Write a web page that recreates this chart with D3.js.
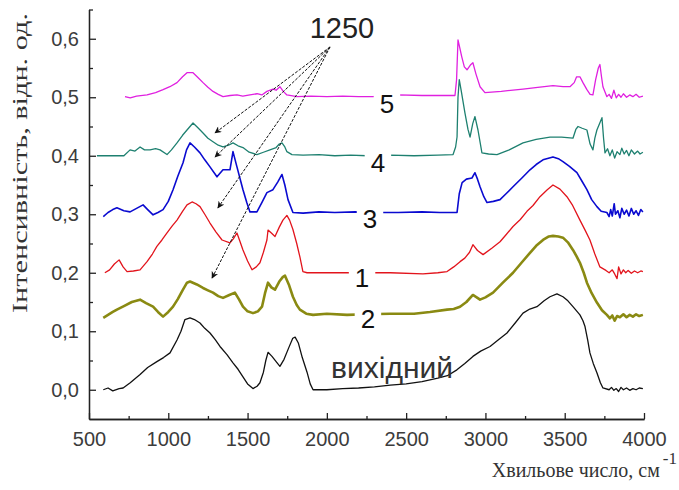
<!DOCTYPE html>
<html>
<head>
<meta charset="utf-8">
<script src="https://cdnjs.cloudflare.com/ajax/libs/d3/7.8.5/d3.min.js"></script>
<style>
  body { margin: 0; background: #fff; }
  svg { display: block; }
</style>
</head>
<body>
<div id="chart"></div>
<script>
// IR spectra, stacked with offsets

// tick values
const xTicks = [500, 1000, 1500, 2000, 2500, 3000, 3500, 4000];
const xMinor = [750, 1250, 1750, 2250, 2750, 3250, 3750];
const yTicks = [0.0, 0.1, 0.2, 0.3, 0.4, 0.5, 0.6];
const yMinor = [0.05, 0.15, 0.25, 0.35, 0.45, 0.55, 0.65];

// series: [wavenumber, intensity]
const base = [[590,0.0],[620,0.003],[650,-0.002],[690,0.002],[715,0.003],[760,0.012],[822,0.026],[870,0.038],[928,0.048],[970,0.055],[1011,0.063],[1055,0.085],[1080,0.1],[1105,0.12],[1137,0.123],[1165,0.12],[1200,0.114],[1230,0.105],[1263,0.097],[1295,0.086],[1326,0.074],[1370,0.06],[1408,0.046],[1440,0.035],[1471,0.022],[1500,0.01],[1534,0.002],[1560,0.006],[1578,0.012],[1600,0.03],[1615,0.05],[1629,0.064],[1654,0.057],[1680,0.048],[1704,0.04],[1730,0.052],[1760,0.072],[1785,0.088],[1800,0.09],[1820,0.08],[1845,0.055],[1875,0.03],[1895,0.01],[1913,0.0],[2000,0.0],[2100,0.002],[2200,0.003],[2300,0.005],[2400,0.008],[2500,0.01],[2600,0.014],[2700,0.02],[2760,0.024],[2820,0.034],[2870,0.045],[2921,0.057],[2970,0.066],[3029,0.074],[3080,0.085],[3136,0.097],[3190,0.115],[3237,0.131],[3280,0.138],[3325,0.142],[3370,0.152],[3407,0.159],[3451,0.164],[3489,0.159],[3520,0.152],[3552,0.142],[3596,0.128],[3615,0.118],[3628,0.108],[3645,0.085],[3659,0.063],[3680,0.045],[3703,0.029],[3725,0.012],[3741,0.003],[3780,0.0],[3795,0.004],[3810,-0.001],[3825,0.002],[3840,-0.003],[3855,0.004],[3870,0.0],[3890,0.003],[3910,-0.001],[3930,0.002],[3950,0.0],[3970,0.003],[3993,0.002]];

const s2 = [[590,0.123],[620,0.128],[650,0.133],[676,0.137],[720,0.143],[770,0.15],[822,0.154],[860,0.148],[904,0.142],[935,0.133],[967,0.125],[1000,0.133],[1030,0.142],[1060,0.155],[1090,0.17],[1118,0.183],[1137,0.185],[1180,0.18],[1219,0.174],[1250,0.17],[1282,0.166],[1315,0.16],[1345,0.157],[1385,0.162],[1420,0.166],[1445,0.155],[1471,0.142],[1500,0.134],[1534,0.131],[1565,0.134],[1591,0.142],[1610,0.165],[1629,0.183],[1650,0.175],[1673,0.171],[1700,0.185],[1723,0.193],[1736,0.195],[1760,0.18],[1786,0.159],[1810,0.145],[1830,0.137],[1870,0.13],[1913,0.128],[2000,0.13],[2127,0.128],[2250,0.129],[2400,0.13],[2550,0.13],[2650,0.133],[2758,0.137],[2800,0.138],[2840,0.142],[2880,0.15],[2921,0.162],[2945,0.158],[2966,0.154],[3000,0.158],[3048,0.166],[3110,0.183],[3174,0.2],[3230,0.218],[3281,0.234],[3320,0.246],[3363,0.256],[3400,0.262],[3426,0.263],[3460,0.262],[3489,0.26],[3520,0.252],[3552,0.239],[3575,0.228],[3596,0.217],[3620,0.2],[3640,0.183],[3670,0.165],[3703,0.149],[3735,0.136],[3766,0.128],[3785,0.122],[3800,0.127],[3815,0.118],[3830,0.126],[3848,0.124],[3870,0.129],[3890,0.124],[3910,0.128],[3930,0.125],[3950,0.129],[3970,0.126],[3993,0.128]];

const s1 = [[600,0.2],[630,0.205],[660,0.215],[690,0.222],[715,0.21],[740,0.202],[780,0.203],[822,0.205],[866,0.219],[900,0.232],[928,0.245],[960,0.256],[992,0.268],[1025,0.28],[1055,0.29],[1090,0.305],[1118,0.316],[1150,0.321],[1175,0.318],[1200,0.313],[1230,0.3],[1263,0.285],[1300,0.27],[1339,0.256],[1389,0.251],[1410,0.258],[1433,0.268],[1450,0.255],[1471,0.239],[1500,0.22],[1528,0.205],[1555,0.21],[1578,0.217],[1600,0.235],[1622,0.256],[1629,0.273],[1650,0.268],[1673,0.262],[1700,0.278],[1723,0.29],[1748,0.298],[1765,0.29],[1786,0.274],[1810,0.25],[1830,0.227],[1849,0.202],[1875,0.2],[2000,0.2],[2200,0.2],[2400,0.2],[2606,0.198],[2700,0.2],[2758,0.202],[2800,0.21],[2840,0.219],[2870,0.225],[2900,0.235],[2921,0.248],[2950,0.238],[2985,0.231],[3040,0.242],[3092,0.253],[3130,0.265],[3174,0.279],[3220,0.291],[3262,0.305],[3300,0.315],[3344,0.33],[3390,0.342],[3426,0.35],[3470,0.343],[3514,0.33],[3550,0.315],[3596,0.29],[3630,0.272],[3659,0.256],[3690,0.232],[3722,0.21],[3760,0.204],[3780,0.2],[3800,0.205],[3815,0.198],[3830,0.19],[3840,0.21],[3855,0.198],[3870,0.205],[3885,0.2],[3900,0.204],[3920,0.199],[3940,0.203],[3960,0.2],[3980,0.203],[3993,0.202]];

const s3 = [[590,0.296],[620,0.303],[650,0.308],[676,0.311],[720,0.306],[759,0.304],[800,0.31],[841,0.316],[870,0.308],[904,0.299],[935,0.303],[967,0.308],[1000,0.322],[1030,0.342],[1060,0.365],[1093,0.388],[1115,0.41],[1137,0.422],[1165,0.415],[1200,0.405],[1230,0.393],[1263,0.381],[1307,0.364],[1345,0.376],[1389,0.376],[1408,0.407],[1433,0.381],[1471,0.342],[1495,0.32],[1515,0.304],[1559,0.304],[1590,0.32],[1622,0.337],[1660,0.342],[1690,0.355],[1717,0.368],[1735,0.35],[1755,0.325],[1786,0.303],[1850,0.302],[1950,0.304],[2050,0.303],[2177,0.304],[2300,0.303],[2450,0.303],[2600,0.304],[2713,0.303],[2821,0.303],[2835,0.335],[2853,0.354],[2880,0.36],[2915,0.362],[2934,0.371],[2950,0.36],[2966,0.347],[2990,0.33],[3010,0.32],[3050,0.322],[3092,0.325],[3130,0.335],[3174,0.347],[3230,0.362],[3281,0.376],[3320,0.385],[3363,0.393],[3426,0.398],[3460,0.395],[3489,0.39],[3530,0.382],[3577,0.371],[3610,0.356],[3640,0.342],[3670,0.325],[3703,0.313],[3730,0.305],[3766,0.303],[3780,0.296],[3790,0.308],[3800,0.297],[3812,0.318],[3820,0.3],[3835,0.306],[3848,0.294],[3860,0.31],[3875,0.3],[3890,0.307],[3905,0.297],[3920,0.31],[3935,0.3],[3950,0.306],[3965,0.298],[3980,0.308],[3993,0.304]];

const s4 = [[550,0.4],[720,0.4],[759,0.41],[790,0.408],[822,0.415],[850,0.41],[885,0.41],[920,0.412],[948,0.41],[992,0.402],[1020,0.41],[1055,0.422],[1090,0.435],[1118,0.444],[1156,0.456],[1190,0.447],[1219,0.439],[1250,0.43],[1282,0.424],[1315,0.418],[1345,0.415],[1380,0.418],[1408,0.422],[1440,0.417],[1471,0.414],[1510,0.406],[1559,0.402],[1600,0.406],[1641,0.41],[1680,0.414],[1700,0.42],[1717,0.422],[1735,0.415],[1748,0.407],[1780,0.402],[1850,0.401],[1950,0.402],[2050,0.4],[2150,0.401],[2253,0.4],[2400,0.401],[2550,0.4],[2700,0.401],[2796,0.402],[2812,0.415],[2821,0.432],[2827,0.5],[2835,0.53],[2848,0.51],[2871,0.473],[2890,0.445],[2903,0.432],[2920,0.455],[2934,0.467],[2953,0.444],[2978,0.405],[3020,0.403],[3073,0.402],[3150,0.41],[3237,0.422],[3320,0.428],[3407,0.432],[3480,0.432],[3552,0.43],[3570,0.445],[3584,0.45],[3610,0.447],[3640,0.444],[3660,0.42],[3678,0.41],[3690,0.43],[3703,0.444],[3720,0.455],[3735,0.465],[3745,0.43],[3754,0.405],[3770,0.412],[3785,0.4],[3800,0.41],[3815,0.396],[3830,0.407],[3848,0.402],[3860,0.413],[3875,0.403],[3890,0.409],[3905,0.4],[3920,0.41],[3940,0.403],[3960,0.408],[3975,0.403],[3993,0.406]];

const s5 = [[727,0.501],[760,0.499],[800,0.502],[866,0.504],[920,0.508],[967,0.513],[1010,0.518],[1055,0.525],[1090,0.535],[1118,0.542],[1156,0.542],[1190,0.533],[1219,0.525],[1250,0.517],[1282,0.51],[1315,0.505],[1345,0.501],[1390,0.503],[1433,0.504],[1470,0.502],[1515,0.504],[1560,0.506],[1590,0.504],[1622,0.51],[1660,0.514],[1680,0.512],[1704,0.518],[1725,0.51],[1748,0.504],[1811,0.501],[1900,0.502],[2000,0.501],[2100,0.502],[2200,0.501],[2291,0.501],[2450,0.504],[2600,0.503],[2750,0.503],[2808,0.503],[2818,0.53],[2827,0.598],[2838,0.585],[2850,0.57],[2867,0.552],[2884,0.547],[2905,0.555],[2921,0.559],[2940,0.54],[2966,0.518],[2997,0.508],[3100,0.51],[3237,0.514],[3330,0.517],[3426,0.52],[3490,0.518],[3533,0.518],[3560,0.525],[3575,0.535],[3596,0.535],[3615,0.525],[3640,0.513],[3660,0.505],[3678,0.504],[3695,0.53],[3712,0.55],[3722,0.556],[3732,0.535],[3741,0.518],[3766,0.501],[3780,0.505],[3795,0.498],[3810,0.512],[3825,0.499],[3840,0.505],[3855,0.5],[3870,0.506],[3890,0.5],[3910,0.504],[3930,0.501],[3950,0.505],[3970,0.5],[3993,0.502]];

const seriesNames = ["вихідний", "2", "1", "3", "4", "5"];
const seriesData = [base, s2, s1, s3, s4, s5];
const seriesColors = ["#111111", "#8a8a12", "#e2141c", "#0a0ad0", "#1e8070", "#e020e0"];
const seriesWidths = [1.3, 2.6, 1.3, 1.6, 1.3, 1.3];

// curve labels: [text, wavenumber, intensity at baseline]
const curveLabels = [["5", 2379, 0.4735], ["4", 2322, 0.3726], ["3", 2272, 0.277],
                     ["1", 2222, 0.176], ["2", 2259, 0.106]];
const baseLabel = ["вихідний", 2411, 0.0205];

// "1250" annotation and its arrows
const peakLabel = ["1250", 2095, 0.6017];
const arrowFrom = [2020, 0.586];
const arrowTips = [[1295, 0.439], [1295, 0.398], [1313, 0.311], [1276, 0.191]];

const width = 679, height = 490;

let svg = d3.select("#chart").append("svg")
    .attr("width", width)
    .attr("height", height);

let xScale = d3.scaleLinear().domain([500, 4000]).range([89, 644]);
let yScale = d3.scaleLinear().domain([-0.05, 0.65]).range([419, 9.5]);

const tickFont = "'Liberation Sans', Arial, sans-serif";
const serifFont = "'Liberation Serif', 'Times New Roman', serif";

// axes (ticks point inward)
let yAxis = d3.axisLeft(yScale).tickValues(yTicks).tickSize(-7).tickSizeOuter(0)
    .tickPadding(10).tickFormat(d => d.toFixed(1).replace(".", ","));
let yAxisMinor = d3.axisLeft(yScale).tickValues(yMinor).tickSize(-4).tickSizeOuter(0)
    .tickFormat("");
let xAxis = d3.axisBottom(xScale).tickValues(xTicks).tickSize(-6).tickSizeOuter(0)
    .tickPadding(13).tickFormat(d3.format("d"));
let xAxisMinor = d3.axisBottom(xScale).tickValues(xMinor).tickSize(-3).tickSizeOuter(0)
    .tickFormat("");

function styleAxis(g) {
    g.selectAll("path, line").attr("stroke", "#222").attr("stroke-width", 1.3);
    g.selectAll("text").attr("fill", "#3c3c3c")
        .style("font-family", tickFont).style("font-size", "20px");
}

svg.append("g").attr("transform", "translate(89,0)").call(yAxisMinor).call(styleAxis);
svg.append("g").attr("transform", "translate(89,0)").call(yAxis).call(styleAxis);
svg.append("g").attr("transform", "translate(0,419)").call(xAxisMinor).call(styleAxis);
svg.append("g").attr("transform", "translate(0,419)").call(xAxis).call(styleAxis);

// axis titles
svg.append("text")
    .attr("transform", "translate(27,163) rotate(-90)")
    .attr("text-anchor", "middle")
    .attr("textLength", 300)
    .attr("lengthAdjust", "spacingAndGlyphs")
    .style("font-family", serifFont)
    .style("font-size", "21px")
    .attr("fill", "#333")
    .text("Інтенсивність, відн. од.");

// x title with the superscript as a tspan of the same text
let xTitle = svg.append("text")
    .attr("x", 677).attr("y", 477)
    .attr("text-anchor", "end")
    .style("font-family", serifFont)
    .style("font-size", "20px")
    .attr("fill", "#333");
xTitle.append("tspan").text("Хвильове число, см");
xTitle.append("tspan")
    .attr("dx", 3).attr("dy", -13)
    .style("font-size", "17px")
    .text("-1");

// spectra
let line = d3.line()
    .x(d => xScale(d[0]))
    .y(d => yScale(d[1]));

svg.append("g")
    .selectAll("path")
    .data(seriesData)
    .enter()
    .append("path")
    .attr("d", d => line(d))
    .attr("fill", "none")
    .attr("stroke", (d, i) => seriesColors[i])
    .attr("stroke-width", (d, i) => seriesWidths[i])
    .attr("stroke-linejoin", "round");

// curve number labels, with a white gap in the line behind them
let labelG = svg.append("g");
curveLabels.forEach(function (lb) {
    let t = labelG.append("text")
        .attr("x", xScale(lb[1])).attr("y", yScale(lb[2]))
        .attr("text-anchor", "middle")
        .style("font-family", tickFont)
        .style("font-size", "26px")
        .attr("fill", "#111")
        .text(lb[0]);
    let bb = t.node().getBBox();
    labelG.insert("rect", "text")
        .attr("x", bb.x - 6).attr("y", bb.y + 2)
        .attr("width", bb.width + 12).attr("height", bb.height - 4)
        .attr("fill", "#fff");
});

svg.append("text")
    .attr("x", xScale(baseLabel[1])).attr("y", yScale(baseLabel[2]))
    .attr("text-anchor", "middle")
    .style("font-family", tickFont)
    .style("font-size", "30px")
    .attr("fill", "#333")
    .text(baseLabel[0]);

svg.append("text")
    .attr("x", xScale(peakLabel[1])).attr("y", yScale(peakLabel[2]))
    .attr("text-anchor", "middle")
    .style("font-family", tickFont)
    .style("font-size", "29px")
    .attr("fill", "#222")
    .text(peakLabel[0]);

// arrows to the 1250 band
svg.append("defs").append("marker")
    .attr("id", "head")
    .attr("viewBox", "0 0 10 10")
    .attr("refX", 9).attr("refY", 5)
    .attr("markerUnits", "userSpaceOnUse")
    .attr("markerWidth", 8).attr("markerHeight", 7)
    .attr("orient", "auto")
    .append("path")
    .attr("d", "M0,0 L10,5 L0,10 L3,5 Z")
    .attr("fill", "#111");

svg.append("g")
    .selectAll("line")
    .data(arrowTips)
    .enter()
    .append("line")
    .attr("x1", xScale(arrowFrom[0])).attr("y1", yScale(arrowFrom[1]))
    .attr("x2", d => xScale(d[0])).attr("y2", d => yScale(d[1]))
    .attr("stroke", "#111")
    .attr("stroke-width", 1)
    .attr("stroke-dasharray", "3,1.5")
    .attr("marker-end", "url(#head)");
</script>
</body>
</html>
